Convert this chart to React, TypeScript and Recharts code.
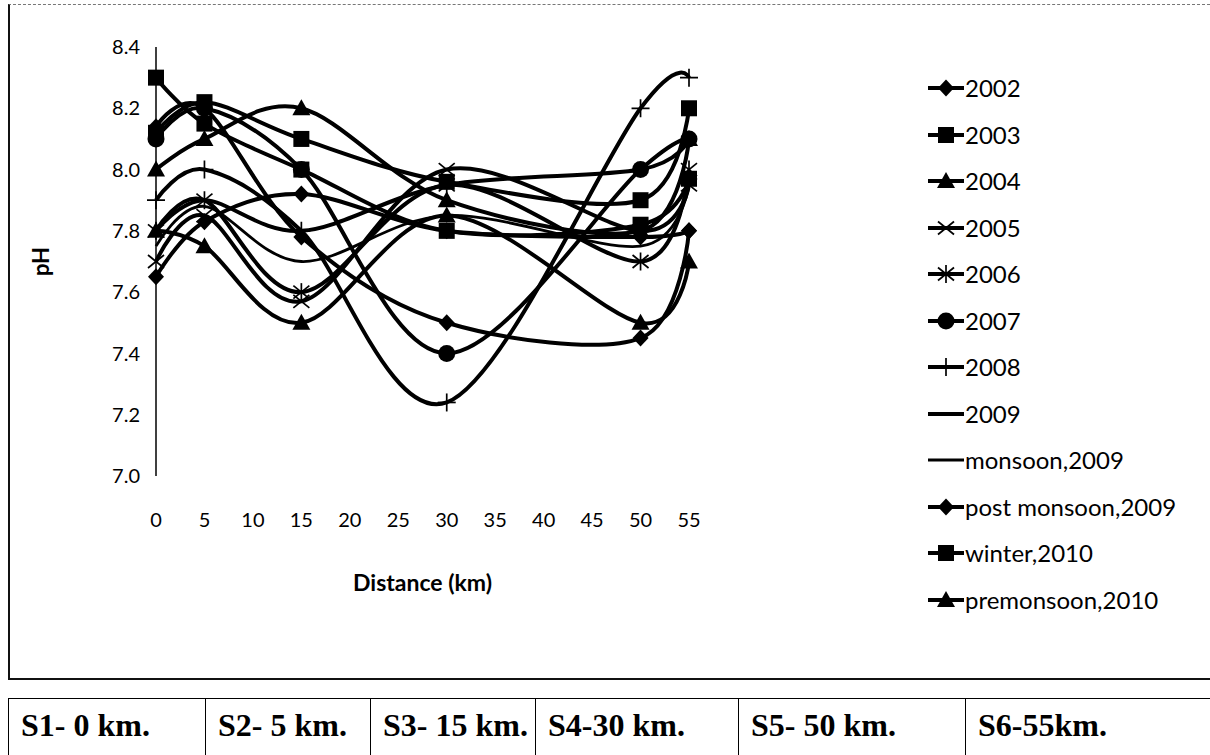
import React from 'react';
import { LineChart, Line, XAxis, YAxis } from 'recharts';

const distances = [0, 5, 15, 30, 50, 55];
const xTicks = [0, 5, 10, 15, 20, 25, 30, 35, 40, 45, 50, 55];
const yTicks = [7.0, 7.2, 7.4, 7.6, 7.8, 8.0, 8.2, 8.4];

const names = ['2002', '2003', '2004', '2005', '2006', '2007', '2008', '2009', 'monsoon,2009', 'post monsoon,2009', 'winter,2010', 'premonsoon,2010'];
const shapes = ['diamond', 'square', 'triangle', 'x', 'asterisk', 'circle', 'plus', 'none', 'none', 'diamond', 'square', 'triangle'];

const v2002 = [8.14, 8.2, 7.78, 7.5, 7.45, 7.8];
const v2003 = [8.3, 8.15, 8.0, 7.8, 7.82, 7.97];
const v2004 = [8.0, 8.1, 8.2, 7.9, 7.8, 8.1];
const v2005 = [7.7, 7.85, 7.57, 8.0, 7.8, 7.95];
const v2006 = [7.8, 7.9, 7.6, 7.95, 7.7, 8.0];
const v2007 = [8.1, 8.2, 8.0, 7.4, 8.0, 8.1];
const v2008 = [7.9, 8.0, 7.8, 7.24, 8.2, 8.3];
const v2009 = [7.8, 7.9, 7.8, 7.95, 8.0, 8.1];
const vMonsoon = [7.75, 7.88, 7.7, 7.85, 7.75, 7.95];
const vPost = [7.65, 7.83, 7.92, 7.8, 7.78, 7.8];
const vWinter = [8.12, 8.22, 8.1, 7.96, 7.9, 8.2];
const vPre = [7.8, 7.75, 7.5, 7.85, 7.5, 7.7];

const values = [v2002, v2003, v2004, v2005, v2006, v2007, v2008, v2009, vMonsoon, vPost, vWinter, vPre];

const tableLabels = ['S1- 0 km.', 'S2- 5 km.', 'S3- 15 km.', 'S4-30 km.', 'S5- 50 km.', 'S6-55km.'];
const tableWidths = [197, 165, 165, 203, 227, 260];

const data = distances.map((d, i) => {
  const row: any = { km: d };
  values.forEach((arr, s) => { row['s' + s] = arr[i]; });
  return row;
});

// Excel-like smooth (cardinal, tension 0) curve factory
function smoothCurve(context: any) {
  const k = 1 / 6;
  let x0 = NaN, y0 = NaN, x1 = NaN, y1 = NaN, x2 = NaN, y2 = NaN, pt = 0;
  const seg = (x: number, y: number) =>
    context.bezierCurveTo(x1 + k * (x2 - x0), y1 + k * (y2 - y0), x2 + k * (x1 - x), y2 + k * (y1 - y), x2, y2);
  return {
    areaStart() {},
    areaEnd() {},
    lineStart() { x0 = x1 = x2 = y0 = y1 = y2 = NaN; pt = 0; },
    lineEnd() { if (pt === 2) context.lineTo(x2, y2); else if (pt === 3) seg(x1, y1); },
    point(xx: number, yy: number) {
      const x = +xx, y = +yy;
      if (pt === 0) { pt = 1; context.moveTo(x, y); }
      else if (pt === 1) { pt = 2; x1 = x; y1 = y; }
      else { if (pt === 2) pt = 3; seg(x, y); }
      x0 = x1; x1 = x2; x2 = x; y0 = y1; y1 = y2; y2 = y;
    },
  };
}

function Marker({ shape, cx, cy }: { shape: string; cx: number; cy: number }) {
  switch (shape) {
    case 'diamond':
      return <polygon points={`${cx},${cy - 8.5} ${cx + 8},${cy} ${cx},${cy + 8.5} ${cx - 8},${cy}`} fill="#000" />;
    case 'square':
      return <rect x={cx - 8} y={cy - 8} width={16} height={16} fill="#000" />;
    case 'triangle':
      return <polygon points={`${cx},${cy - 9} ${cx + 9},${cy + 7} ${cx - 9},${cy + 7}`} fill="#000" />;
    case 'circle':
      return <circle cx={cx} cy={cy} r={8.5} fill="#000" />;
    case 'x':
      return (
        <g stroke="#000" strokeWidth={1.7}>
          <line x1={cx - 8} y1={cy - 6.5} x2={cx + 8} y2={cy + 6.5} />
          <line x1={cx - 8} y1={cy + 6.5} x2={cx + 8} y2={cy - 6.5} />
        </g>
      );
    case 'asterisk':
      return (
        <g stroke="#000" strokeWidth={1.7}>
          <line x1={cx - 8} y1={cy - 6.5} x2={cx + 8} y2={cy + 6.5} />
          <line x1={cx - 8} y1={cy + 6.5} x2={cx + 8} y2={cy - 6.5} />
          <line x1={cx} y1={cy - 9} x2={cx} y2={cy + 9} />
        </g>
      );
    case 'plus':
      return (
        <g stroke="#000" strokeWidth={1.7}>
          <line x1={cx - 9} y1={cy} x2={cx + 9} y2={cy} />
          <line x1={cx} y1={cy - 9} x2={cx} y2={cy + 9} />
        </g>
      );
    default:
      return null;
  }
}

const makeDot = (shape: string) => (props: any) => {
  const { cx, cy, index } = props;
  return (
    <g key={`d-${shape}-${index}`}>
      {shape !== 'none' && cx != null && cy != null ? <Marker shape={shape} cx={cx} cy={cy} /> : null}
    </g>
  );
};

const tickFont = { fill: '#000', fontSize: 20, fontFamily: 'Lato, "Open Sans", sans-serif' };

export default function App() {
  return (
    <div style={{ position: 'fixed', left: 0, top: 0, width: 1210, height: 755, overflow: 'hidden', background: '#fff' }}>
      <div
        style={{
          position: 'absolute', left: 8, top: 4, width: 1202, height: 676, boxSizing: 'border-box',
          borderLeft: '2px solid #111', borderTop: '1px dashed #777', borderBottom: '2px solid #111',
        }}
      >
        <LineChart width={1198} height={672} data={data} margin={{ top: 42, right: 519, bottom: 71, left: 0 }}>
          <XAxis
            dataKey="km"
            type="number"
            domain={[0, 55]}
            ticks={xTicks}
            axisLine={false}
            tickLine={false}
            tickSize={0}
            tickMargin={37}
            height={130}
            tick={tickFont}
            interval={0}
            label={{ value: 'Distance (km)', position: 'insideTop', offset: 99, fill: '#000', fontSize: 23, fontWeight: 'bold', fontFamily: 'Lato, sans-serif' }}
          />
          <YAxis
            type="number"
            domain={[7.0, 8.4]}
            ticks={yTicks}
            interval={0}
            tickFormatter={(v: number) => v.toFixed(1)}
            axisLine={{ stroke: '#000', strokeWidth: 1.5 }}
            tickLine={false}
            tickSize={0}
            tickMargin={16}
            width={146}
            tick={tickFont}
            allowDataOverflow
            label={(p: any) => {
              const vb = p.viewBox || { x: 0, y: 42, width: 146, height: 429 };
              const x = vb.x + 30;
              const y = vb.y + vb.height / 2;
              return (
                <text x={x} y={y} transform={`rotate(-90 ${x} ${y})`} textAnchor="middle" dominantBaseline="central" fontSize={22} fontWeight="bold" fontFamily="Lato, sans-serif" fill="#000">
                  pH
                </text>
              );
            }}
          />
          {names.map((n, s) => (
            <Line
              key={n}
              name={n}
              dataKey={'s' + s}
              type={smoothCurve as any}
              stroke="#000"
              strokeWidth={s === 8 ? 2.8 : 4}
              dot={makeDot(shapes[s])}
              activeDot={false}
              isAnimationActive={false}
            />
          ))}
        </LineChart>
        <div style={{ position: 'absolute', left: 918, top: 60 }}>
          {names.map((n, s) => (
            <div key={n} style={{ height: 46.5, display: 'flex', alignItems: 'center' }}>
              <svg width={36} height={22} style={{ display: 'block' }}>
                <line x1={0} y1={11} x2={36} y2={11} stroke="#000" strokeWidth={s === 8 ? 2.8 : 4} />
                <Marker shape={shapes[s]} cx={18} cy={11} />
              </svg>
              <span style={{ fontFamily: 'Lato, sans-serif', fontSize: 24, color: '#000', marginLeft: 1, lineHeight: '28px' }}>{n}</span>
            </div>
          ))}
        </div>
      </div>
      <table
        style={{
          position: 'absolute', left: 8, top: 698, width: 1217, borderCollapse: 'collapse', tableLayout: 'fixed',
          fontFamily: '"Liberation Serif", "Times New Roman", serif', fontWeight: 'bold', fontSize: 32,
        }}
      >
        <colgroup>
          {tableWidths.map((w, i) => (
            <col key={i} style={{ width: w }} />
          ))}
        </colgroup>
        <tbody>
          <tr>
            {tableLabels.map((t) => (
              <td key={t} style={{ border: '1.5px solid #000', padding: '8px 0 20px 12px', whiteSpace: 'nowrap', overflow: 'hidden', lineHeight: '36px' }}>
                {t}
              </td>
            ))}
          </tr>
        </tbody>
      </table>
    </div>
  );
}
